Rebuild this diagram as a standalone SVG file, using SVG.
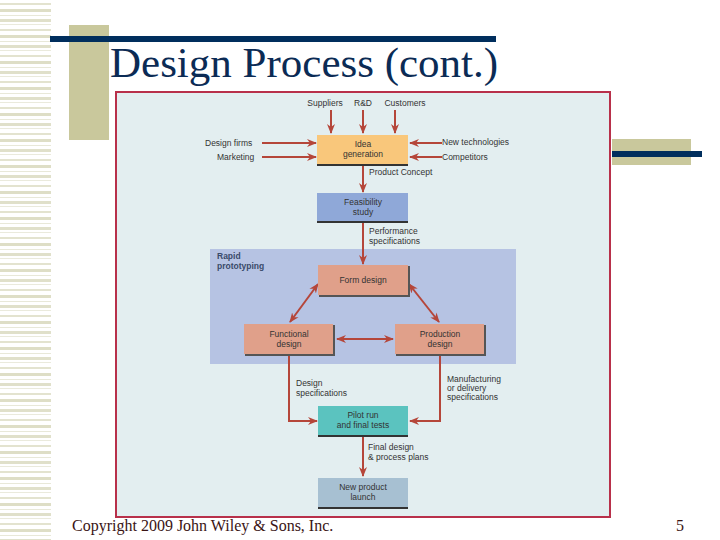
<svg xmlns="http://www.w3.org/2000/svg" width="720" height="540" viewBox="0 0 720 540">
<defs>
<style>
.t{font-family:"Liberation Sans",Arial,sans-serif;font-size:8.5px;fill:#333;}
.c{text-anchor:middle;}
.b{font-weight:bold;fill:#3a4a6a;}
.a{stroke:#b5463a;stroke-width:2;fill:none;}
</style>
<marker id="ah" viewBox="0 0 10 10" refX="9" refY="5" markerWidth="5" markerHeight="5" orient="auto-start-reverse">
<path d="M0,1 L10,5 L0,9 L3,5 Z" fill="#b5463a"/>
</marker>
<pattern id="stripes" x="0" y="0" width="51" height="26" patternUnits="userSpaceOnUse">
<rect x="0" y="3" width="51" height="2" fill="#e3e3cf"/>
<rect x="0" y="9" width="51" height="3" fill="#dedec6"/>
<rect x="0" y="15" width="51" height="1" fill="#e8e8d8"/>
<rect x="0" y="19" width="51" height="3" fill="#e0e0ca"/>
<rect x="0" y="24" width="51" height="1" fill="#eaeadc"/>
</pattern>
</defs>
<rect width="720" height="540" fill="#ffffff"/>
<rect x="0" y="0" width="51" height="540" fill="url(#stripes)"/>
<rect x="69" y="25" width="40" height="115" fill="#c9c89c"/>
<rect x="50" y="36" width="446" height="6" fill="#002e5d"/>
<text x="110" y="77" font-family="'Liberation Serif',serif" font-size="43" fill="#0b2b55">Design Process (cont.)</text>
<rect x="612" y="139" width="79" height="26" fill="#c9c89c"/>
<rect x="612" y="151" width="90" height="6" fill="#002e5d"/>

<rect x="116" y="92" width="494" height="425" fill="#e3eef0" stroke="#b8304a" stroke-width="2"/>
<rect id="rapid" x="210" y="249" width="306" height="115" fill="#b6c3e3"/>
<text class="t b" x="217" y="259">Rapid</text>
<text class="t b" x="217" y="268.5">prototyping</text>

<g id="connectors">
<line class="a" x1="331" y1="110" x2="331" y2="133" marker-end="url(#ah)"/>
<line class="a" x1="363" y1="110" x2="363" y2="133" marker-end="url(#ah)"/>
<line class="a" x1="395" y1="110" x2="395" y2="133" marker-end="url(#ah)"/>
<line class="a" x1="262" y1="143" x2="316" y2="143" marker-end="url(#ah)"/>
<line class="a" x1="262" y1="157" x2="316" y2="157" marker-end="url(#ah)"/>
<line class="a" x1="442" y1="143" x2="410" y2="143" marker-end="url(#ah)"/>
<line class="a" x1="442" y1="157" x2="410" y2="157" marker-end="url(#ah)"/>
<line class="a" x1="363" y1="166" x2="363" y2="192" marker-end="url(#ah)"/>
<line class="a" x1="363" y1="223" x2="363" y2="264" marker-end="url(#ah)"/>
<line class="a" x1="318" y1="284" x2="290" y2="322" marker-start="url(#ah)" marker-end="url(#ah)"/>
<line class="a" x1="409" y1="284" x2="439" y2="322" marker-start="url(#ah)" marker-end="url(#ah)"/>
<line class="a" x1="337" y1="339" x2="393" y2="339" marker-start="url(#ah)" marker-end="url(#ah)"/>
<polyline class="a" points="289,356 289,421 317,421" marker-end="url(#ah)"/>
<polyline class="a" points="440,356 440,421 410,421" marker-end="url(#ah)"/>
<line class="a" x1="363" y1="437" x2="363" y2="476" marker-end="url(#ah)"/>
</g>

<g id="labels">
<text class="t c" x="325" y="106">Suppliers</text>
<text class="t c" x="363" y="106">R&amp;D</text>
<text class="t c" x="405" y="106">Customers</text>
<text class="t" x="205" y="146">Design firms</text>
<text class="t" x="217" y="160">Marketing</text>
<text class="t" x="442" y="145">New technologies</text>
<text class="t" x="442" y="160">Competitors</text>
<text class="t" x="369" y="175">Product Concept</text>
<text class="t" x="369" y="234">Performance</text>
<text class="t" x="369" y="243.5">specifications</text>
<text class="t" x="296" y="386">Design</text>
<text class="t" x="296" y="395.5">specifications</text>
<text class="t" x="447" y="382">Manufacturing</text>
<text class="t" x="447" y="391">or delivery</text>
<text class="t" x="447" y="400">specifications</text>
<text class="t" x="368" y="450">Final design</text>
<text class="t" x="368" y="459.5">&amp; process plans</text>
</g>

<g id="idea">
<rect x="317" y="136" width="91" height="30" fill="#333"/>
<rect x="317" y="135" width="91" height="29" fill="#f9c77b"/>
<text class="t c" x="363" y="147">Idea</text>
<text class="t c" x="363" y="156.5">generation</text>
</g>
<g id="feasibility">
<rect x="317" y="194" width="91" height="29" fill="#333"/>
<rect x="317" y="193" width="91" height="28" fill="#8fa8d8"/>
<text class="t c" x="363" y="205">Feasibility</text>
<text class="t c" x="363" y="214.5">study</text>
</g>
<g id="form">
<rect x="319" y="266" width="91" height="31" fill="#555"/>
<rect x="318" y="265" width="90" height="30" fill="#e0a08a"/>
<text class="t c" x="363" y="283">Form design</text>
</g>
<g id="functional">
<rect x="245" y="325" width="90" height="31" fill="#555"/>
<rect x="244" y="324" width="89" height="30" fill="#e0a08a"/>
<text class="t c" x="289" y="337">Functional</text>
<text class="t c" x="289" y="346.5">design</text>
</g>
<g id="production">
<rect x="396" y="325" width="90" height="31" fill="#555"/>
<rect x="395" y="324" width="89" height="30" fill="#e0a08a"/>
<text class="t c" x="440" y="337">Production</text>
<text class="t c" x="440" y="346.5">design</text>
</g>
<g id="pilot">
<rect x="318" y="407" width="90" height="30" fill="#333"/>
<rect x="318" y="406" width="90" height="29" fill="#5bc3bf"/>
<text class="t c" x="363" y="418">Pilot run</text>
<text class="t c" x="363" y="427.5">and final tests</text>
</g>
<g id="launch">
<rect x="318" y="479" width="90" height="30" fill="#333"/>
<rect x="318" y="478" width="90" height="29" fill="#a7c0d2"/>
<text class="t c" x="363" y="490">New product</text>
<text class="t c" x="363" y="499.5">launch</text>
</g>

<text x="72" y="531" font-family="'Liberation Serif',serif" font-size="16" fill="#3a1414">Copyright 2009 John Wiley &amp; Sons, Inc.</text>
<text x="676" y="531" font-family="'Liberation Serif',serif" font-size="16" fill="#3a1414">5</text>
</svg>
